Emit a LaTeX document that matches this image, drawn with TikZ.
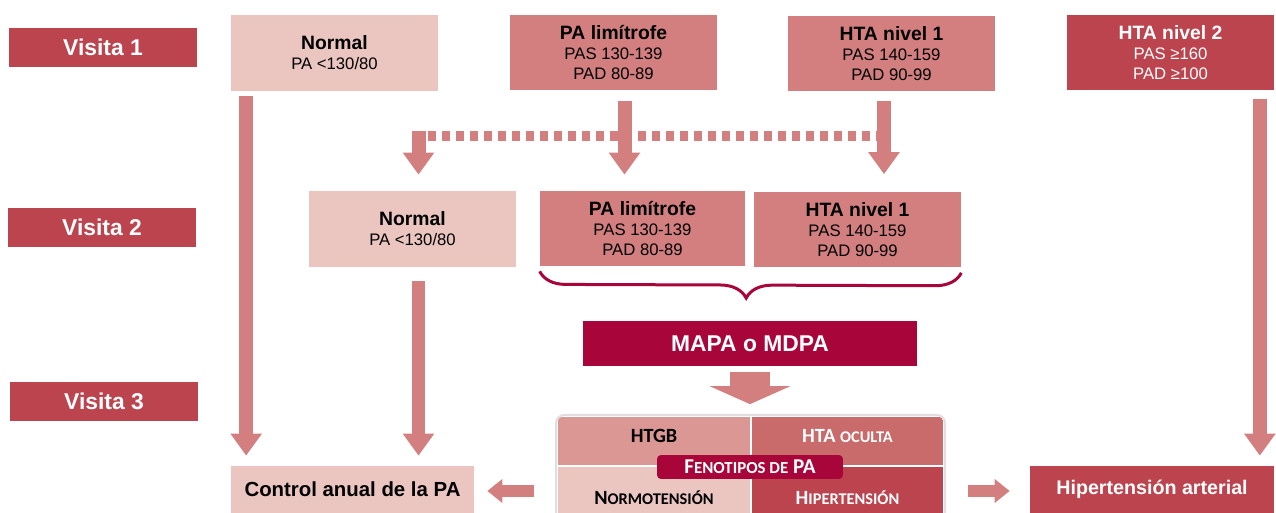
\documentclass[tikz,border=0pt]{standalone}
\usepackage{fontspec}
\setmainfont{Liberation Sans}
\newfontfamily\calfont{Carlito}
\usetikzlibrary{arrows.meta,decorations.pathreplacing}

\definecolor{rosaclaro}{HTML}{EBC5C0}
\definecolor{rosa}{HTML}{D37F7F}
\definecolor{granate}{HTML}{BC444E}
\definecolor{carmin}{HTML}{A8063A}
\definecolor{rosamedio}{HTML}{DB9793}
\definecolor{rojizo}{HTML}{C86B6A}

\newcommand\versal[2]{{\fontsize{#1}{#1}\selectfont #2}}
\newcommand\titulo[1]{{\bfseries\fontsize{11}{13}\selectfont #1}}

\begin{document}
\begin{tikzpicture}[
    x=0.02cm, y=-0.02cm,
    caja/.style={
        rectangle,
        inner sep=0pt,
        minimum width=4.14cm,
        minimum height=1.52cm,
        align=center,
        font=\fontsize{9.5}{11.4}\selectfont,
    },
    visita/.style={
        rectangle,
        fill=granate,
        text=white,
        inner sep=0pt,
        minimum width=3.76cm,
        minimum height=0.78cm,
        font=\bfseries\fontsize{13}{15}\selectfont,
    },
    final/.style={
        rectangle,
        inner sep=0pt,
        minimum width=4.86cm,
        minimum height=0.94cm,
        font=\bfseries\fontsize{11.6}{14}\selectfont,
    },
    celda/.style={
        rectangle,
        inner sep=0pt,
        minimum width=3.84cm,
        minimum height=0.98cm,
    },
    fenotexto/.style={font=\calfont\bfseries\fontsize{11.5}{13}\selectfont},
    flecha/.style={
        rosa,
        line width=0.28cm,
        -{Triangle[width=0.6cm,length=0.44cm]},
    },
    flechah/.style={
        rosa,
        line width=0.26cm,
        -{Triangle[width=0.46cm,length=0.3cm]},
    },
    punteado/.style={
        rosa,
        line width=0.2cm,
        dash pattern=on 0.16cm off 0.12cm,
    },
]

    \useasboundingbox (0,0) rectangle (1276,513);

    % visitas
    \node[visita] (v1) at (103,47.5) {Visita 1};
    \node[visita] (v2) at (102,227.5) {Visita 2};
    \node[visita] (v3) at (104,401.5) {Visita 3};

    % visita 1
    \node[caja,fill=rosaclaro] (n1) at (334.5,53) {\titulo{Normal}\\PA <130/80};
    \node[caja,fill=rosa] (pl1) at (613.5,52.5) {\titulo{PA limítrofe}\\PAS 130-139\\PAD 80-89};
    \node[caja,fill=rosa] (h1) at (891.5,53.5) {\titulo{HTA nivel 1}\\PAS 140-159\\PAD 90-99};
    \node[caja,fill=granate,text=white] (h2) at (1170.5,52.5) {\titulo{HTA nivel 2}\\PAS ≥160\\PAD ≥100};

    % visita 2
    \node[caja,fill=rosaclaro] (n2) at (412.5,229) {\titulo{Normal}\\PA <130/80};
    \node[caja,fill=rosa,minimum width=4.1cm,minimum height=1.5cm] (pl2) at (642.5,228.5) {\titulo{PA limítrofe}\\PAS 130-139\\PAD 80-89};
    \node[caja,fill=rosa] (h12) at (857.5,229.5) {\titulo{HTA nivel 1}\\PAS 140-159\\PAD 90-99};

    \draw[carmin, line width=0.06cm, decorate,
        decoration={brace, mirror, amplitude=0.52cm, aspect=0.49}]
        ([yshift=-0.1cm]pl2.south west) -- ([yshift=-0.1cm]h12.south east);

    \node[rectangle, fill=carmin, text=white, minimum width=6.68cm, minimum height=0.9cm,
        font=\bfseries\fontsize{13}{15}\selectfont] (mapa) at (750,343.5) {MAPA o MDPA};

    % fenotipos
    \begin{scope}
        \clip[rounded corners=0.16cm] (557,416) rectangle (944,520);
        \node[celda,fill=rosamedio] (htgb) at (654,441) {};
        \node[celda,fill=rojizo] (oculta) at (847.5,441) {};
        \node[celda,fill=rosaclaro] (normo) at (654,491) {};
        \node[celda,fill=granate] (hiper) at (847.5,491) {};
    \end{scope}
    \draw[gray!25, line width=0.04cm, rounded corners=0.16cm] (556,415) rectangle (945,522);
    \draw[white, line width=0.04cm] (751,416) -- (751,513);
    \draw[white, line width=0.04cm] (557,466) -- (944,466);

    \node[fenotexto] (t1) at (654,436) {HTGB};
    \node[fenotexto,text=white] (t2) at (847.5,436) {HTA \versal{9.3}{OCULTA}};
    \node[fenotexto] (t3) at (654,498) {N\versal{9.3}{ORMOTENSIÓN}};
    \node[fenotexto,text=white] (t4) at (847.5,498) {H\versal{9.3}{IPERTENSIÓN}};
    \node[rectangle, fill=carmin, text=white, rounded corners=0.08cm, inner sep=0pt,
        minimum width=3.72cm, minimum height=0.48cm,
        font=\calfont\bfseries\fontsize{12}{13}\selectfont] (feno) at (750,467)
        {F\versal{9.6}{ENOTIPOS DE} PA};

    % resultados
    \node[final,fill=rosaclaro] (ctrl) at (352.5,489.5) {Control anual de la PA};
    \node[final,fill=granate,text=white,minimum width=4.88cm,
        font=\bfseries\fontsize{11.2}{14}\selectfont] (hta) at (1152,489.5) {Hipertensión arterial};

    % flechas
    \draw[flecha] ([xshift=0.31cm,yshift=-0.1cm]n1.south west) -- ([xshift=0.31cm,yshift=0.2cm]n1.south west |- ctrl.north);
    \draw[flecha] ([xshift=0.12cm,yshift=-0.28cm]n2.south) -- ([xshift=0.12cm,yshift=0.2cm]n2.south |- ctrl.north);
    \draw[flecha] ([xshift=-0.29cm,yshift=-0.16cm]h2.south east) -- ([xshift=-0.29cm,yshift=0.2cm]h2.south east |- hta.north);
    \draw[flecha] ([xshift=0.22cm,yshift=-0.2cm]pl1.south) -- ([xshift=0.22cm,yshift=0.32cm]pl1.south |- pl2.north);
    \draw[flecha] ([xshift=-0.15cm,yshift=-0.18cm]h1.south) -- ([xshift=-0.15cm,yshift=0.34cm]h1.south |- h12.north);

    \coordinate (cruce) at (884,136);
    \coordinate (rama) at (418.5,131);
    \draw[punteado] (cruce) -- (rama |- cruce);
    \draw[flecha] (rama) -- ([yshift=0.32cm]rama |- n2.north);

    \draw[rosa, line width=0.8cm, -{Triangle[width=1.6cm,length=0.36cm]}]
        ([yshift=-0.12cm]mapa.south) -- ([yshift=0.24cm]mapa.south |- htgb.north);

    \draw[flechah] ([xshift=-0.48cm]normo.west) -- ([xshift=0.26cm]ctrl.east |- normo.west);
    \draw[flechah] ([xshift=0.48cm]hiper.east) -- ([xshift=-0.4cm]hta.west |- hiper.east);

\end{tikzpicture}
\end{document}
